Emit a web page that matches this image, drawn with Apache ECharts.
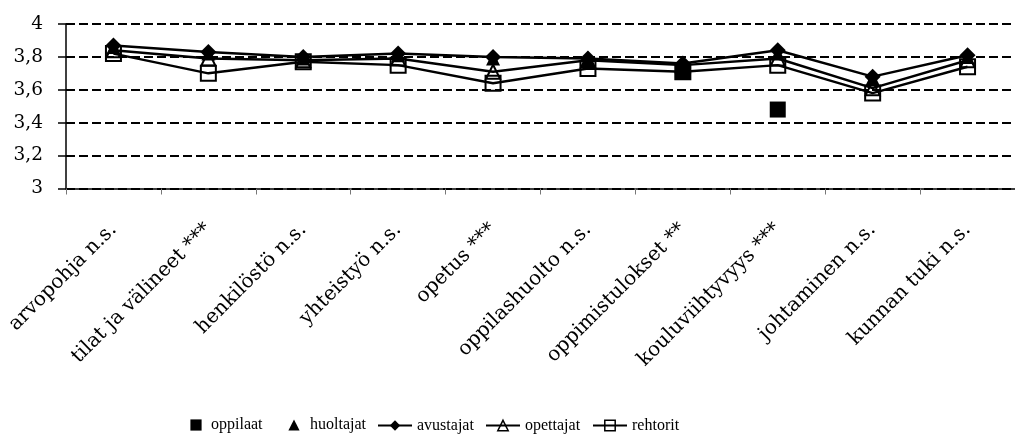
<!DOCTYPE html>
<html>
<head>
<meta charset="utf-8">
<script src="https://cdn.jsdelivr.net/npm/echarts@6/dist/echarts.min.js"></script>
<style>
html,body{margin:0;padding:0;background:#fff;}
#chart{width:1015px;height:437px;}
</style>
</head>
<body>
<div id="chart"></div>
<script>
var categories = ['arvopohja n.s.','tilat ja välineet ***','henkilöstö n.s.','yhteistyö n.s.','opetus ***','oppilashuolto n.s.','oppimistulokset **','kouluviihtyvyys ***','johtaminen n.s.','kunnan tuki n.s.'];
var oppilaat  = [null, null, null, null, null, null, 3.71, 3.48, null, null];
var huoltajat = [3.86, 3.82, 3.79, 3.81, 3.79, 3.78, 3.76, 3.82, 3.67, 3.80];
var avustajat = [3.87, 3.83, 3.80, 3.82, 3.80, 3.79, 3.76, 3.84, 3.68, 3.81];
var opettajat = [3.84, 3.79, 3.78, 3.79, 3.71, 3.78, 3.75, 3.79, 3.61, 3.78];
var rehtorit  = [3.82, 3.70, 3.77, 3.75, 3.64, 3.73, 3.71, 3.75, 3.58, 3.74];
var yTickLabels = {'3':'3','3.2':'3,2','3.4':'3,4','3.6':'3,6','3.8':'3,8','4':'4'};

var chart = echarts.init(document.getElementById('chart'));
var legendText = {fontFamily:'Liberation Serif', fontSize:16, color:'#000'};
function lg(name, left, w, h, top){
  return {data:[name], left:left, top:top, itemWidth:w, itemHeight:h, textStyle:legendText, padding:0, selectedMode:false,
    itemStyle:{borderWidth:1.5}, lineStyle:{width:2}};
}
var openStyle = {color:'transparent', borderColor:'#000', borderWidth:2};
chart.setOption({
  animation:false,
  backgroundColor:'#fff',
  grid:{left:66, right:-11, top:24, bottom:248.5, containLabel:false},
  legend:[
    lg('oppilaat', 185, 20, 14, 417),
    lg('huoltajat', 282, 22, 14, 417),
    lg('avustajat', 377, 34, 13, 417.5),
    lg('opettajat', 485, 34, 13, 417.5),
    lg('rehtorit', 592, 34, 13, 417.5)
  ],
  xAxis:{
    type:'category', data:categories, boundaryGap:true,
    axisLine:{lineStyle:{color:'#000', width:1.5}},
    axisTick:{show:true, length:6, lineStyle:{color:'#777', width:1}},
    axisLabel:{rotate:45, margin:38, interval:0, fontFamily:'DejaVu Serif', fontSize:20, color:'#000'},
    splitLine:{show:false}
  },
  yAxis:{
    type:'value', min:3, max:4, interval:0.2,
    axisLine:{show:true, lineStyle:{color:'#000', width:1.5}},
    axisTick:{show:true, length:8, lineStyle:{color:'#000', width:1.5}},
    axisLabel:{margin:23, fontFamily:'DejaVu Serif', fontSize:18.5, color:'#000',
      formatter:function(v){ var k = String(Math.round(v*10)/10); return yTickLabels[k] !== undefined ? yTickLabels[k] : k; }},
    splitLine:{show:true, lineStyle:{color:'#000', width:2.2, type:[9,4]}}
  },
  series:[
    {name:'oppilaat', type:'line', data:oppilaat, symbol:'rect', symbolSize:16,
      lineStyle:{width:0, opacity:0}, itemStyle:{color:'#000'}, connectNulls:false, z:2},
    {name:'huoltajat', type:'line', data:huoltajat, symbol:'triangle', symbolSize:14,
      lineStyle:{width:0, opacity:0}, itemStyle:{color:'#000'}, z:2},
    {name:'avustajat', type:'line', data:avustajat, symbol:'diamond', symbolSize:[16,16],
      lineStyle:{color:'#000', width:2.5}, itemStyle:{color:'#000'}, z:3},
    {name:'opettajat', type:'line', data:opettajat, symbol:'triangle', symbolSize:14,
      lineStyle:{color:'#000', width:2.5}, itemStyle:openStyle, z:4},
    {name:'rehtorit', type:'line', data:rehtorit, symbol:'rect', symbolSize:15,
      lineStyle:{color:'#000', width:2.5}, itemStyle:openStyle, z:5}
  ]
});
</script>
</body>
</html>
